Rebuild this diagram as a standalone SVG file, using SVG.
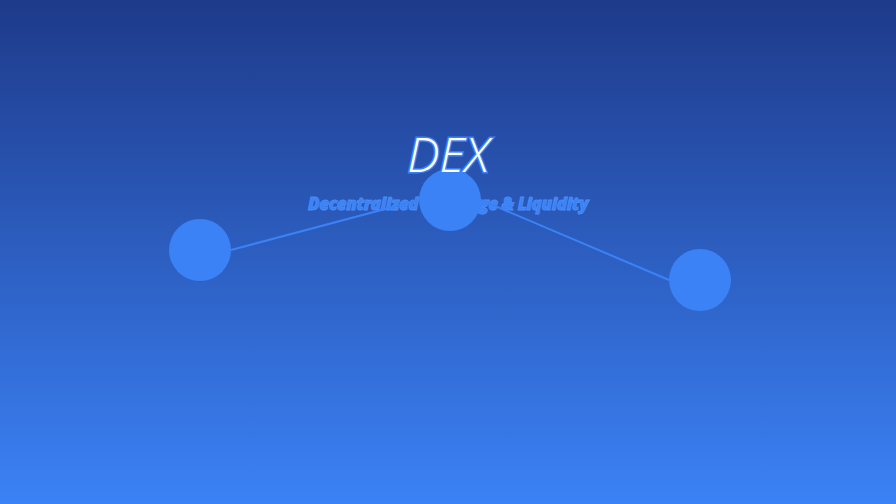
<svg xmlns="http://www.w3.org/2000/svg" width="896" height="504" viewBox="0 0 896 504">
<defs>
<linearGradient id="bg" x1="0" y1="0" x2="0" y2="1">
<stop offset="0" stop-color="#1e3a8a"/>
<stop offset="1" stop-color="#3b82f6"/>
</linearGradient>
</defs>
<style>
.node{fill:#3b82f6}
.edge{stroke:#3b82f6;stroke-width:2;fill:none}
.title{font-family:"Open Sans",sans-serif;font-style:italic;font-weight:300;font-size:48px;fill:#ffffff;stroke:#3b82f6;stroke-width:3;paint-order:stroke;text-anchor:middle}
.sub{font-family:"Open Sans",sans-serif;font-style:italic;font-weight:800;font-size:17px;letter-spacing:-0.4px;fill:#3b82f6;stroke:#4a8ef8;stroke-width:0.8;text-anchor:middle}
</style>
<rect width="896" height="504" fill="url(#bg)"/>
<text class="sub" x="448" y="210">Decentralized Exchange &amp; Liquidity</text>
<g id="connectors">
<line class="edge" x1="231" y1="250" x2="419" y2="200"/>
<line class="edge" x1="481" y1="200" x2="669" y2="280"/>
</g>
<g id="node-left"><circle class="node" cx="200" cy="250" r="31"/></g>
<g id="node-center"><circle class="node" cx="450" cy="200" r="31"/></g>
<g id="node-right"><circle class="node" cx="700" cy="280" r="31"/></g>
<text class="title" x="448" y="172">DEX</text>
</svg>
